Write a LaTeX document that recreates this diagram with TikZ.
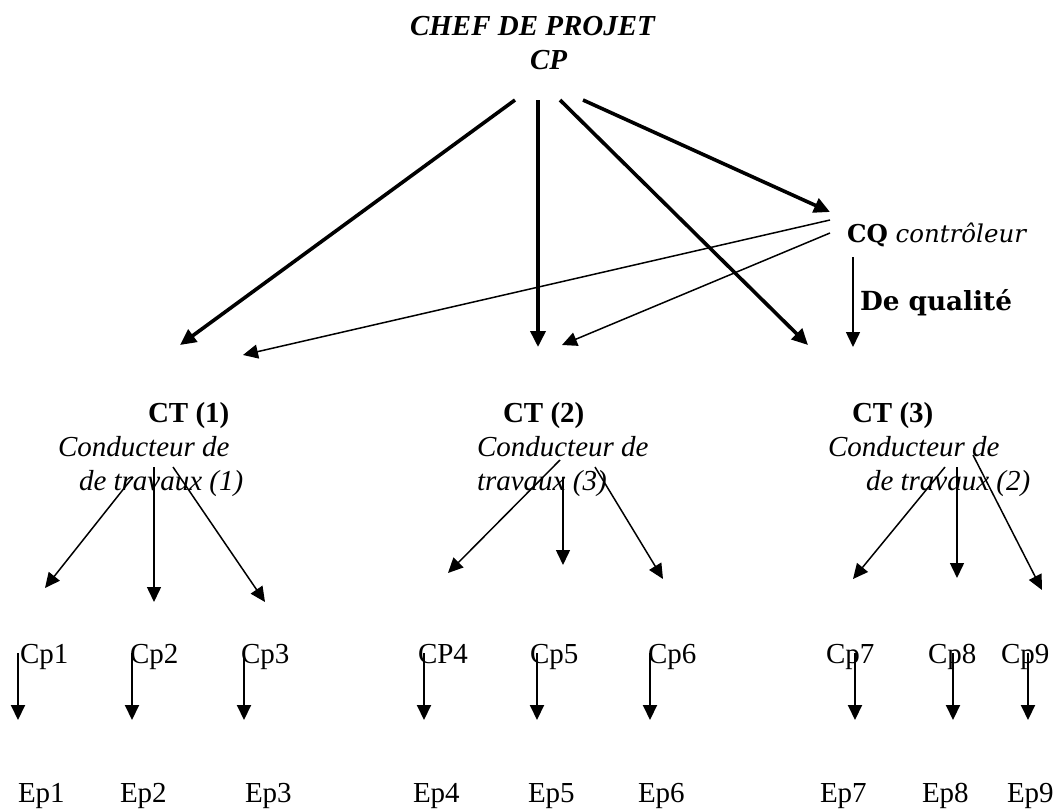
\documentclass[tikz,border=0pt]{standalone}
\usepackage{fontspec}
\setmainfont{Liberation Serif}
\newfontfamily\cambriaish{DejaVu Serif}
\usetikzlibrary{arrows.meta}
\begin{document}
\begin{tikzpicture}[x=1pt,y=-1pt,
  lbl/.style={anchor=base west,inner sep=0pt,outer sep=0pt,font=\fontsize{29}{34}\selectfont},
  qlbl/.style={anchor=base west,inner sep=0pt,outer sep=0pt,font=\cambriaish\fontsize{24.5}{30}\selectfont},
  heavy/.style={-{Triangle[length=16pt,width=15pt]},line width=3.6pt},
  light/.style={-{Triangle[length=15pt,width=14pt]},line width=1.5pt},
  drop/.style={-{Triangle[length=15pt,width=14pt]},line width=2pt}]
\useasboundingbox (0,0) rectangle (1060,811);

% --- labels ---
\node[lbl,font=\fontsize{29}{34}\selectfont\bfseries\itshape] (chef) at (410,35) {CHEF DE PROJET};
\node[lbl,font=\fontsize{29}{34}\selectfont\bfseries\itshape] (cp) at (530,69) {CP};
\node[qlbl] (cq) at (847,242) {\textbf{CQ} \textit{contrôleur}};
\node[qlbl,font=\cambriaish\fontsize{26.3}{31}\selectfont\bfseries] (dq) at (860,310) {De qualité};

\node[lbl,font=\fontsize{29}{34}\selectfont\bfseries] (ct1) at (148,422) {CT (1)};
\node[lbl,font=\fontsize{29}{34}\selectfont\itshape] (ct1a) at (58,456) {Conducteur de};
\node[lbl,font=\fontsize{29}{34}\selectfont\itshape] (ct1b) at (79,490) {de travaux (1)};
\node[lbl,font=\fontsize{29}{34}\selectfont\bfseries] (ct2) at (503,422) {CT (2)};
\node[lbl,font=\fontsize{29}{34}\selectfont\itshape] (ct2a) at (477,456) {Conducteur de};
\node[lbl,font=\fontsize{29}{34}\selectfont\itshape] (ct2b) at (477,490) {travaux (3)};
\node[lbl,font=\fontsize{29}{34}\selectfont\bfseries] (ct3) at (852,422) {CT (3)};
\node[lbl,font=\fontsize{29}{34}\selectfont\itshape] (ct3a) at (828,456) {Conducteur de};
\node[lbl,font=\fontsize{29}{34}\selectfont\itshape] (ct3b) at (866,490) {de travaux (2)};

\node[lbl] (cp1) at (20,663) {Cp1};
\node[lbl] (cp2) at (130,663) {Cp2};
\node[lbl] (cp3) at (241,663) {Cp3};
\node[lbl] (cp4) at (418,663) {CP4};
\node[lbl] (cp5) at (530,663) {Cp5};
\node[lbl] (cp6) at (648,663) {Cp6};
\node[lbl] (cp7) at (826,663) {Cp7};
\node[lbl] (cp8) at (928,663) {Cp8};
\node[lbl] (cp9) at (1001,663) {Cp9};

\node[lbl] (ep1) at (18,802) {Ep1};
\node[lbl] (ep2) at (120,802) {Ep2};
\node[lbl] (ep3) at (245,802) {Ep3};
\node[lbl] (ep4) at (413,802) {Ep4};
\node[lbl] (ep5) at (528,802) {Ep5};
\node[lbl] (ep6) at (638,802) {Ep6};
\node[lbl] (ep7) at (820,802) {Ep7};
\node[lbl] (ep8) at (922,802) {Ep8};
\node[lbl] (ep9) at (1007,802) {Ep9};

% --- arrow end points ---
\coordinate (s1) at (515,100);  \coordinate (e1) at (180,345);
\coordinate (s2) at (538,100);  \coordinate (e2) at (538,347);
\coordinate (s3) at (560,100);  \coordinate (e3) at (808,345);
\coordinate (s4) at (583,100);  \coordinate (e4) at (830,212);
\coordinate (q1) at (830,220);  \coordinate (f1) at (243,355);
\coordinate (q2) at (830,233);  \coordinate (f2) at (562,345);
\coordinate (q3) at (853,257);  \coordinate (f3) at (853,347);

\coordinate (a1) at (133,477);  \coordinate (b1) at (45,588);
\coordinate (a2) at (154,467);  \coordinate (b2) at (154,602);
\coordinate (a3) at (173,467);  \coordinate (b3) at (265,602);
\coordinate (a4) at (560,460);  \coordinate (b4) at (448,573);
\coordinate (a5) at (563,477);  \coordinate (b5) at (563,565);
\coordinate (a6) at (595,467);  \coordinate (b6) at (663,579);
\coordinate (a7) at (945,467);  \coordinate (b7) at (853,579);
\coordinate (a8) at (957,467);  \coordinate (b8) at (957,578);
\coordinate (a9) at (973,455);  \coordinate (b9) at (1042,590);

% --- project manager to site managers and quality ---
\draw[heavy] (s1) -- (e1);
\draw[heavy] (s2) -- (e2);
\draw[heavy] (s3) -- (e3);
\draw[heavy] (s4) -- (e4);

% --- quality controller ---
\draw[light] (q1) -- (f1);
\draw[light] (q2) -- (f2);
\draw[light] (q3) -- (f3);

% --- site managers to team leaders ---
\foreach \i in {1,...,9} {
  \draw[light] (a\i) -- (b\i);
}

% --- team leaders to teams ---
\foreach \i/\x in {1/18,2/132,3/244,4/424,5/537,6/650,7/855,8/953,9/1028} {
  \coordinate (u\i) at (\x,653);
  \coordinate (v\i) at (\x,720);
  \draw[drop] (u\i) -- (v\i);
}
\end{tikzpicture}
\end{document}
